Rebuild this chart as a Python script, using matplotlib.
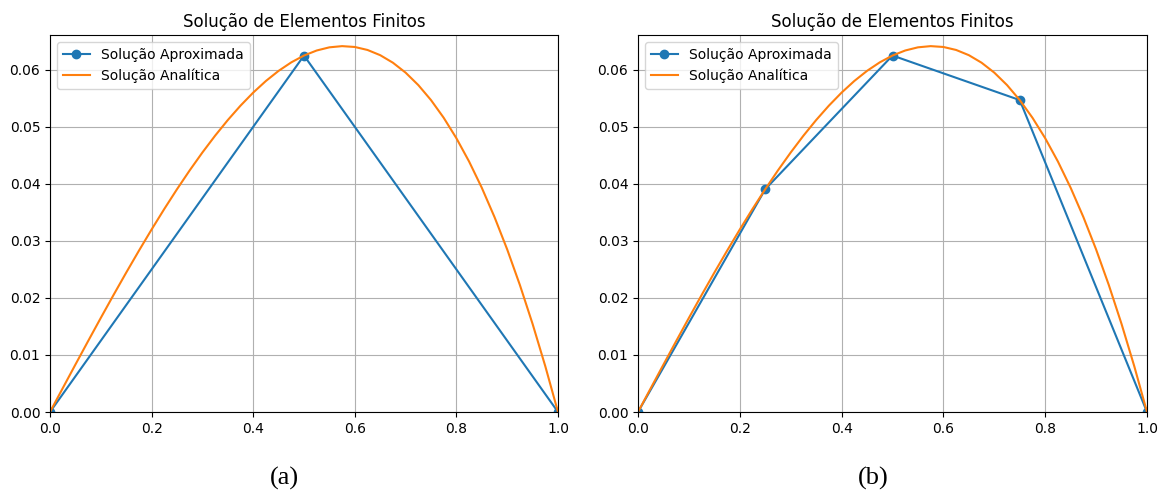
import matplotlib
matplotlib.use('Agg')
from matplotlib import pyplot as plt

# nodal values of the finite element solutions
x_a = [0.0, 0.5, 1.0]
u_a = [0.0, 0.0625, 0.0]
x_b = [0.0, 0.25, 0.5, 0.75, 1.0]
u_b = [0.0, 0.03906, 0.0625, 0.05469, 0.0]

# analytical curve
x_ex = [0.0, 0.025, 0.05, 0.075, 0.1, 0.125, 0.15, 0.175, 0.2, 0.225,
        0.25, 0.275, 0.3, 0.325, 0.35, 0.375, 0.4, 0.425, 0.45, 0.475,
        0.5, 0.525, 0.55, 0.575, 0.6, 0.625, 0.65, 0.675, 0.7, 0.725,
        0.75, 0.775, 0.8, 0.825, 0.85, 0.875, 0.9, 0.925, 0.95, 0.975, 1.0]
u_ex = [0.0, 0.004164, 0.008313, 0.012430, 0.0165, 0.020508, 0.024438, 0.028273, 0.032, 0.035602,
        0.039063, 0.042367, 0.0455, 0.048445, 0.051188, 0.053711, 0.056, 0.058039, 0.059813, 0.061305,
        0.0625, 0.063383, 0.063938, 0.064148, 0.064, 0.063477, 0.062563, 0.061242, 0.0595, 0.057320,
        0.054688, 0.051586, 0.048, 0.043914, 0.039313, 0.034180, 0.0285, 0.022258, 0.015438, 0.008023, 0.0]

fig = plt.figure(figsize=(11.67, 4.92), dpi=100)
ax1 = fig.add_axes([50 / 1167, 1 - 412 / 492, 508 / 1167, 377 / 492])
ax2 = fig.add_axes([638 / 1167, 1 - 412 / 492, 509 / 1167, 377 / 492])

for ax, xs, us, cap, cx in [(ax1, x_a, u_a, '(a)', 284), (ax2, x_b, u_b, '(b)', 873)]:
    ax.plot(xs, us, 'o-', color='#1f77b4', label='Solução Aproximada')
    ax.plot(x_ex, u_ex, color='#ff7f0e', label='Solução Analítica')
    ax.set_xlim(0, 1)
    ax.set_ylim(0, 0.0661)
    ax.grid(True)
    ax.tick_params(labelsize=10)
    ax.set_title('Solução de Elementos Finitos', fontsize=12)
    ax.legend(loc='upper left', fontsize=10)
    fig.text(cx / 1167, 1 - 478 / 492, cap, ha='center', va='center',
             fontsize=19, family='Liberation Serif')

fig.savefig('out.png', dpi=100)
